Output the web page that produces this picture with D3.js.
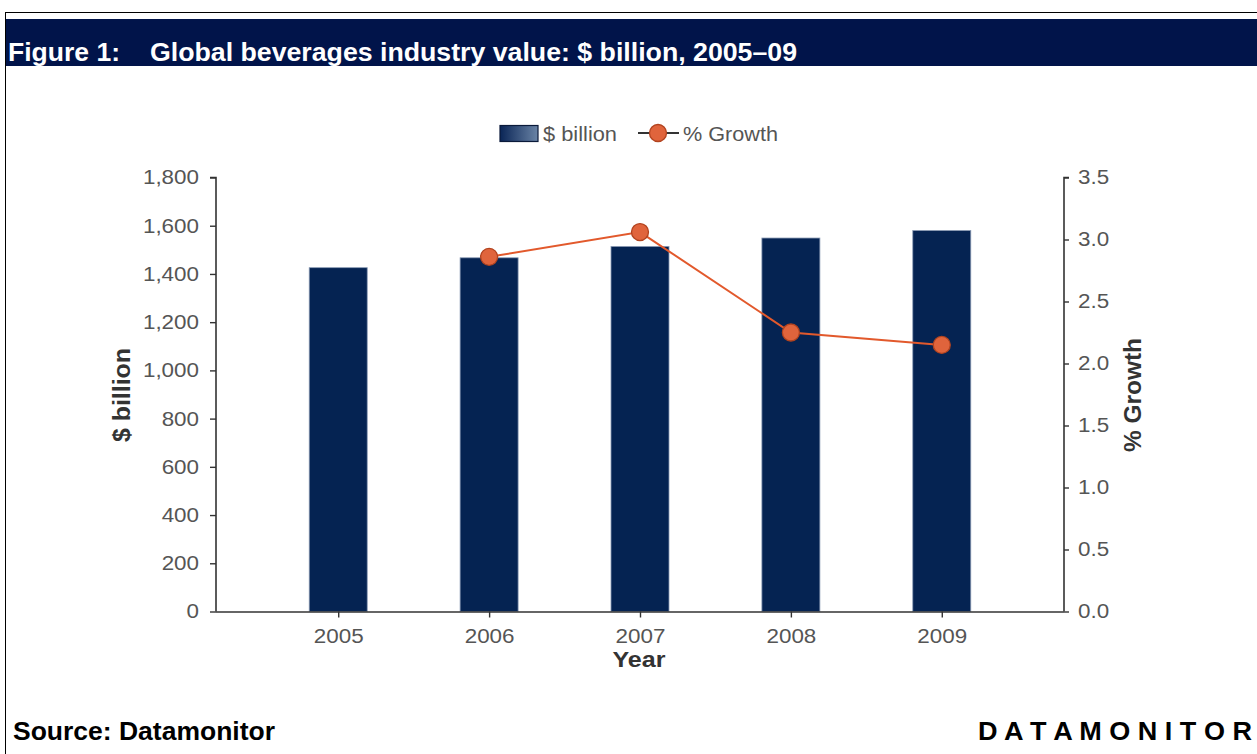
<!DOCTYPE html>
<html>
<head>
<meta charset="utf-8">
<script src="https://cdn.jsdelivr.net/npm/d3@7"></script>
<style>
  html, body { margin: 0; padding: 0; background: #fff; }
  svg { display: block; font-family: "Liberation Sans", Arial, sans-serif; }
</style>
</head>
<body>
<svg id="chart" width="1257" height="754"></svg>
<script>
// Global beverages industry value, 2005–09
const years = ["2005", "2006", "2007", "2008", "2009"];
const valueBillion = [1426, 1467, 1514, 1549, 1580];
const growthYears = ["2006", "2007", "2008", "2009"];
const growthPct = [2.86, 3.06, 2.25, 2.15];
const leftTicks = [0, 200, 400, 600, 800, 1000, 1200, 1400, 1600, 1800];
const rightTicks = [0, 0.5, 1.0, 1.5, 2.0, 2.5, 3.0, 3.5];

const svg = d3.select("#chart");
const W = 1257, H = 754;

// Stretch or squeeze a text element to a given drawn width
function fitWidth(sel, w) {
  sel.attr("textLength", w).attr("lengthAdjust", "spacingAndGlyphs");
  return sel;
}

// Frame lines
svg.append("line").attr("x1", 5).attr("x2", W).attr("y1", 12.5).attr("y2", 12.5)
  .attr("stroke", "#000").attr("stroke-width", 1);
svg.append("line").attr("x1", 5.5).attr("x2", 5.5).attr("y1", 12).attr("y2", H)
  .attr("stroke", "#000").attr("stroke-width", 1);

// Header band
svg.append("rect").attr("x", 6).attr("y", 19).attr("width", W - 6).attr("height", 47)
  .attr("fill", "#01144a");
fitWidth(svg.append("text").attr("x", 8).attr("y", 61)
  .attr("fill", "#fff").attr("font-weight", "bold").attr("font-size", 25)
  .text("Figure 1:"), 112);
fitWidth(svg.append("text").attr("x", 150).attr("y", 61)
  .attr("fill", "#fff").attr("font-weight", "bold").attr("font-size", 25)
  .text("Global beverages industry value: $ billion, 2005–09"), 647);

// Plot area
const x0 = 216, x1 = 1064, yTop = 177.5, yBot = 611.5;

const x = d3.scalePoint().domain(years).range([x0, x1]).padding(0.81);
const yL = d3.scaleLinear().domain([0, 1800]).range([yBot, yTop]);
const yR = d3.scaleLinear().domain([0, 3.5]).range([yBot, yTop]);
const barW = 58;

// Gradient for legend swatch
const defs = svg.append("defs");
const grad = defs.append("linearGradient").attr("id", "swatchGrad")
  .attr("x1", "0%").attr("x2", "100%").attr("y1", "0%").attr("y2", "0%");
grad.append("stop").attr("offset", "0%").attr("stop-color", "#0a2556");
grad.append("stop").attr("offset", "100%").attr("stop-color", "#6a84a6");

// Bars
svg.append("g").selectAll("rect").data(years).join("rect")
  .attr("x", d => x(d) - barW / 2)
  .attr("y", (d, i) => yL(valueBillion[i]))
  .attr("width", barW)
  .attr("height", (d, i) => yBot - yL(valueBillion[i]))
  .attr("fill", "#052352")
  .attr("stroke", "#8a9ab4").attr("stroke-width", 0.8);

// Axes
const leftAxis = svg.append("g").attr("transform", `translate(${x0},0)`)
  .call(d3.axisLeft(yL).tickValues(leftTicks).tickSize(6).tickPadding(11)
    .tickFormat(d3.format(",")));
const rightAxis = svg.append("g").attr("transform", `translate(${x1},0)`)
  .call(d3.axisRight(yR).tickValues(rightTicks).tickSize(5).tickPadding(9)
    .tickFormat(d3.format(".1f")));
const bottomAxis = svg.append("g").attr("transform", `translate(0,${yBot})`)
  .call(d3.axisBottom(x).tickSize(6).tickSizeOuter(0).tickPadding(11));

[leftAxis, rightAxis, bottomAxis].forEach(g => {
  g.select(".domain").attr("stroke", "#333").attr("stroke-width", 1.6);
  g.selectAll(".tick line").attr("stroke", "#333").attr("stroke-width", 1.4);
  g.selectAll(".tick text").attr("fill", "#555").attr("font-size", 20)
    .attr("font-family", "'Liberation Sans', Arial, sans-serif")
    .each(function () {
      // tick labels are set slightly wide
      const w = this.getComputedTextLength();
      d3.select(this).attr("textLength", w * 1.12).attr("lengthAdjust", "spacingAndGlyphs");
    });
});
bottomAxis.select(".domain").attr("d", `M${x0},0.5H${x1}`);
leftAxis.select(".domain").attr("d", `M-6,${yTop}H0V${yBot}`);
rightAxis.select(".domain").attr("d", `M5,${yTop}H0V${yBot}`);

// Growth line
const line = d3.line().x(d => x(d[0])).y(d => yR(d[1]));
const pts = growthYears.map((y, i) => [y, growthPct[i]]);
svg.append("path").datum(pts).attr("d", line)
  .attr("fill", "none").attr("stroke", "#e2592c").attr("stroke-width", 2);
svg.append("g").selectAll("circle").data(pts).join("circle")
  .attr("cx", d => x(d[0])).attr("cy", d => yR(d[1])).attr("r", 8.5)
  .attr("fill", "#e0643c").attr("stroke", "#b2431f").attr("stroke-width", 1.3);

// Axis titles
fitWidth(svg.append("text").attr("transform", `translate(130,395) rotate(-90)`)
  .attr("text-anchor", "middle").attr("font-weight", "bold").attr("font-size", 23)
  .attr("fill", "#333").text("$ billion"), 94);
fitWidth(svg.append("text").attr("transform", `translate(1141,395) rotate(-90)`)
  .attr("text-anchor", "middle").attr("font-weight", "bold").attr("font-size", 23)
  .attr("fill", "#333").text("% Growth"), 114);
fitWidth(svg.append("text").attr("x", 639).attr("y", 667)
  .attr("text-anchor", "middle").attr("font-weight", "bold").attr("font-size", 22)
  .attr("fill", "#333").text("Year"), 53);

// Legend
const lg = svg.append("g");
lg.append("rect").attr("x", 500).attr("y", 125.5).attr("width", 38).attr("height", 16)
  .attr("fill", "url(#swatchGrad)").attr("stroke", "#0a1a3a").attr("stroke-width", 1.2);
fitWidth(lg.append("text").attr("x", 543).attr("y", 141).attr("font-size", 21).attr("fill", "#555")
  .text("$ billion"), 74);
lg.append("line").attr("x1", 638).attr("x2", 679).attr("y1", 133).attr("y2", 133)
  .attr("stroke", "#333").attr("stroke-width", 1.8);
lg.append("circle").attr("cx", 658).attr("cy", 133).attr("r", 8.5)
  .attr("fill", "#e0643c").attr("stroke", "#b2431f").attr("stroke-width", 1.3);
fitWidth(lg.append("text").attr("x", 683).attr("y", 141).attr("font-size", 21).attr("fill", "#555")
  .text("% Growth"), 95);

// Footer
fitWidth(svg.append("text").attr("x", 13).attr("y", 740).attr("font-weight", "bold").attr("font-size", 25)
  .attr("fill", "#000").text("Source: Datamonitor"), 262);
fitWidth(svg.append("text").attr("x", 978).attr("y", 740)
  .attr("font-weight", "bold").attr("font-size", 25).attr("fill", "#000")
  .text("D A T A M O N I T O R"), 274);
</script>
</body>
</html>
